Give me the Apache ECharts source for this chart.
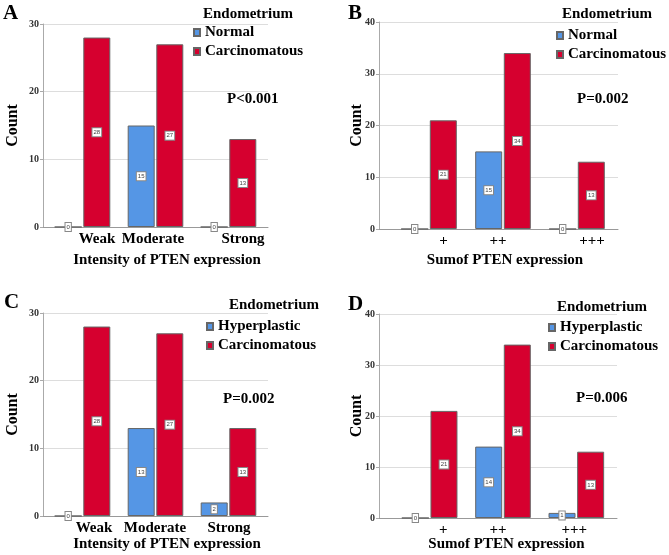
<!DOCTYPE html>
<html>
<head>
<meta charset="utf-8">
<script src="https://cdn.jsdelivr.net/npm/echarts@6/dist/echarts.min.js"></script>
<style>
  html, body { margin: 0; padding: 0; background: #fff; }
  #chart { width: 669px; height: 555px; }
</style>
</head>
<body>
<div id="chart"></div>
<script>
// categories
const intensityCats = ["Weak", "Moderate", "Strong"];
const sumCats = ["+", "++", "+++"];
// panel A: normal vs carcinomatous, intensity
const normalIntensity = [0, 15, 0];
const carcIntensityA = [28, 27, 13];
// panel B: normal vs carcinomatous, sum
const normalSum = [0, 15, 0];
const carcSumB = [21, 34, 13];
// panel C: hyperplastic vs carcinomatous, intensity
const hyperIntensity = [0, 13, 2];
const carcIntensityC = [28, 27, 13];
// panel D: hyperplastic vs carcinomatous, sum
const hyperSum = [0, 14, 1];
const carcSumD = [21, 34, 13];
// y axis tops and p values
const yMaxes = [30, 40, 30, 40];
const pTexts = ["P<0.001", "P=0.002", "P=0.002", "P=0.006"];
const letters = ["A", "B", "C", "D"];

const FONT = "Liberation Serif";
const RED = "#d6002f";
const BLUE = "#5596e5";

// 每个面板的位置
const layout = [
  { frame: { left: 43, top: 24, width: 225, height: 203 }, bars: { left: 46, width: 219 },
    shift: [14.5, -2.5, 14.5], nameShift: 11.5, nameGap: 26, countGap: 22,
    legend: { left: 193, top: 25 }, head: { left: 203, top: 7 }, p: { left: 227, top: 92 }, letter: { left: 3, top: 3 } },
  { frame: { left: 379, top: 22, width: 239, height: 207 }, bars: { left: 392, width: 222 },
    shift: [14.5, -5, 15], nameShift: 6.5, nameGap: 24, countGap: 14,
    legend: { left: 556, top: 28 }, head: { left: 562, top: 7 }, p: { left: 577, top: 92 }, letter: { left: 348, top: 3 } },
  { frame: { left: 43, top: 313, width: 225, height: 203 }, bars: { left: 46, width: 219 },
    shift: [11.5, -0.5, 0.5], nameShift: 11.5, nameGap: 21, countGap: 22,
    legend: { left: 206, top: 319 }, head: { left: 229, top: 298 }, p: { left: 223, top: 392 }, letter: { left: 4, top: 292 } },
  { frame: { left: 379, top: 314, width: 238, height: 204 }, bars: { left: 393, width: 220 },
    shift: [13.5, -5, -2], nameShift: 8.5, nameGap: 19, countGap: 14,
    legend: { left: 548, top: 320 }, head: { left: 557, top: 300 }, p: { left: 576, top: 391 }, letter: { left: 348, top: 294 } },
];

const panels = [
  { cats: intensityCats, firstName: "Normal", first: normalIntensity, second: carcIntensityA, xName: "Intensity of PTEN expression" },
  { cats: sumCats, firstName: "Normal", first: normalSum, second: carcSumB, xName: "Sumof PTEN expression" },
  { cats: intensityCats, firstName: "Hyperplastic", first: hyperIntensity, second: carcIntensityC, xName: "Intensity of PTEN expression" },
  { cats: sumCats, firstName: "Hyperplastic", first: hyperSum, second: carcSumD, xName: "Sumof PTEN expression" },
];

const grid = [], xAxis = [], yAxis = [], series = [], legend = [], title = [];

const boldText = (size, color) => ({ fontFamily: FONT, fontWeight: "bold", fontSize: size, color: color || "#000" });

const barLabel = {
  show: true,
  position: "inside",
  fontFamily: "Liberation Sans",
  fontSize: 6,
  color: "#444",
  backgroundColor: "#fff",
  borderColor: "#888",
  borderWidth: 1,
  padding: [1, 1],
};

panels.forEach((p, i) => {
  const L = layout[i];
  const f = L.frame;
  const gFrame = i * 2, gBars = i * 2 + 1;
  const ymax = yMaxes[i];

  grid.push({ left: f.left, top: f.top, width: f.width, height: f.height, outerBoundsMode: "none" });
  grid.push({ left: L.bars.left, top: f.top, width: L.bars.width, height: f.height, outerBoundsMode: "none" });

  // 外框: 网格线 + y轴
  xAxis.push({
    gridIndex: gFrame, type: "value", min: 0, max: 1,
    axisLine: { show: true, lineStyle: { color: "#999", width: 1 } },
    axisTick: { show: false }, axisLabel: { show: false }, splitLine: { show: false },
    name: p.xName, nameLocation: "middle", nameGap: L.nameGap, nameMoveOverlap: false,
    nameTextStyle: Object.assign(boldText(15), { padding: [0, 0, 0, L.nameShift * 2] }),
  });
  yAxis.push({
    gridIndex: gFrame, type: "value", min: 0, max: ymax, interval: 10,
    axisLine: { show: true, lineStyle: { color: "#aaa" } },
    axisTick: { show: true, length: 3, lineStyle: { color: "#aaa" } },
    axisLabel: Object.assign(boldText(10, "#333"), { margin: 4 }),
    splitLine: { show: true, lineStyle: { color: "#ddd" } },
    name: "Count", nameLocation: "middle", nameGap: L.countGap, nameMoveOverlap: false,
    nameTextStyle: boldText(16),
  });

  // 柱子
  const rich = {};
  L.shift.forEach((s, k) => {
    rich["s" + k] = Object.assign(boldText(15), { padding: s >= 0 ? [0, 0, 0, s * 2] : [0, -s * 2, 0, 0] });
  });
  xAxis.push({
    gridIndex: gBars, type: "category", data: p.cats,
    axisLine: { show: false }, axisTick: { show: false },
    axisLabel: { margin: 5, interval: 0, formatter: (v, k) => "{s" + k + "|" + v + "}", rich: rich },
  });
  yAxis.push({
    gridIndex: gBars, type: "value", min: 0, max: ymax, interval: 10, show: false,
    splitLine: { show: false },
  });

  series.push({
    name: p.firstName, type: "bar", xAxisIndex: gBars, yAxisIndex: gBars,
    data: p.first, barWidth: 27, barGap: "6%",
    itemStyle: { color: BLUE, borderColor: "#666", borderWidth: 1 },
    label: barLabel,
  });
  series.push({
    name: "Carcinomatous", type: "bar", xAxisIndex: gBars, yAxisIndex: gBars,
    data: p.second, barWidth: 27, barGap: "6%",
    itemStyle: { color: RED, borderColor: "#666", borderWidth: 1 },
    label: barLabel,
  });

  legend.push({
    seriesIndex: [i * 2, i * 2 + 1],
    data: [p.firstName, "Carcinomatous"],
    orient: "vertical", left: L.legend.left, top: L.legend.top,
    padding: 0, itemGap: 4, itemWidth: 6, itemHeight: 7, icon: "rect",
    selectedMode: false,
    textStyle: boldText(15),
  });

  title.push({ text: letters[i], left: L.letter.left, top: L.letter.top, padding: 0, textStyle: boldText(21) });
  title.push({ text: "Endometrium", left: L.head.left, top: L.head.top, padding: 0, textStyle: boldText(15) });
  title.push({ text: pTexts[i], left: L.p.left, top: L.p.top, padding: 0, textStyle: boldText(15) });
});

const chart = echarts.init(document.getElementById("chart"), null, { renderer: "canvas" });
chart.setOption({
  backgroundColor: "#fff",
  animation: false,
  title: title,
  legend: legend,
  grid: grid,
  xAxis: xAxis,
  yAxis: yAxis,
  series: series,
});
</script>
</body>
</html>
